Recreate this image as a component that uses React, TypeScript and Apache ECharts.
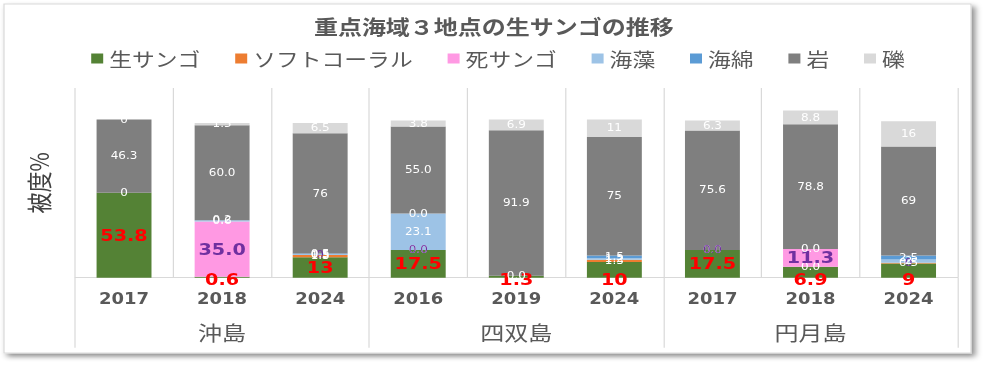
import React, { useEffect, useRef } from "react";
import * as echarts from "echarts";

// ---- data ----
const categories = ["2017", "2018", "2024", "2016", "2019", "2024", "2017", "2018", "2024"];
const groups = ["沖島", "四双島", "円月島"];
// decimals used for each bar's labels (null = general number format)
const decimals: (number | null)[] = [null, 1, null, 1, 1, null, 1, 1, null];

const live = [53.8, 0.6, 13, 17.5, 1.3, 10, 17.5, 6.9, 9];
const soft: (number | null)[] = [0, null, 1.3, 0, 0, 1.3, 0, 0, 0.5];
const dead: (number | null)[] = [null, 35.0, 0, 0, null, null, 0, 11.3, 0];
const algae: (number | null)[] = [null, 0.6, 0.5, 23.1, null, 1.2, null, 0, 2];
const sponge: (number | null)[] = [null, 0.2, 0.5, 0, null, 1.5, null, null, 2.5];
const rock = [46.3, 60.0, 76, 55.0, 91.9, 75, 75.6, 78.8, 69];
const rubble = [0, 1.5, 6.5, 3.8, 6.9, 11, 6.3, 8.8, 16];

const seriesNames = ["生サンゴ", "ソフトコーラル", "死サンゴ", "海藻", "海綿", "岩", "礫"];
const colors = ["#548235", "#ED7D31", "#FF99E3", "#9DC3E6", "#5B9BD5", "#7F7F7F", "#D9D9D9"];

const TITLE = "重点海域３地点の生サンゴの推移";
const Y_NAME = "被度%";

const S = 1.2; // horizontal stretch of the picture
const W = 987;
const H = 368;
const W0 = W / S;
const BASE_Y = 277.7;

const NUM_FONT = '"DejaVu Sans", "Noto Sans CJK JP", sans-serif';
const JP_FONT = '"Noto Sans CJK JP", "Noto Sans", sans-serif';

function fmt(p: any) {
  const d = decimals[p.dataIndex];
  const v = Number(p.value);
  return d == null ? String(v) : v.toFixed(d);
}

export default function App() {
  const ref = useRef<HTMLDivElement>(null);
  useEffect(() => {
    if (!ref.current) return;
    const chart = echarts.init(ref.current, undefined, { renderer: "svg" });

    const smallWhite = {
      show: true,
      position: "inside",
      color: "#FFFFFF",
      fontSize: 10,
      fontFamily: NUM_FONT,
      formatter: fmt,
    };

    const toData = (arr: (number | null)[]) => arr.map((v) => (v == null ? "-" : v));

    const series: any[] = [
      {
        name: seriesNames[0],
        data: live,
        label: {
          show: true,
          position: "inside",
          color: "#FF0000",
          fontSize: 16,
          fontWeight: "bold",
          fontFamily: NUM_FONT,
          formatter: fmt,
        },
        labelLayout: (p: any) =>
          live[p.dataIndex] < 12
            ? { y: BASE_Y + 2, align: "center", verticalAlign: "middle" }
            : {},
      },
      { name: seriesNames[1], data: toData(soft), label: smallWhite },
      {
        name: seriesNames[2],
        data: dead.map((v) =>
          v == null
            ? "-"
            : {
                value: v,
                label:
                  v >= 5
                    ? { fontSize: 16, fontWeight: "bold" }
                    : { fontSize: 10, fontWeight: "normal" },
              }
        ),
        label: {
          show: true,
          position: "inside",
          color: "#7030A0",
          fontFamily: NUM_FONT,
          formatter: fmt,
        },
      },
      { name: seriesNames[3], data: toData(algae), label: smallWhite },
      { name: seriesNames[4], data: toData(sponge), label: smallWhite },
      { name: seriesNames[5], data: toData(rock), label: smallWhite },
      { name: seriesNames[6], data: toData(rubble), label: smallWhite },
    ].map((s, i) => ({
      type: "bar",
      stack: "total",
      barWidth: "56%",
      xAxisIndex: 0,
      yAxisIndex: 0,
      itemStyle: { color: colors[i] },
      ...s,
    }));

    chart.setOption({
      animation: false,
      color: colors,
      textStyle: { fontFamily: JP_FONT },
      graphic: [
        {
          type: "rect",
          z: -10,
          silent: true,
          shape: { x: 4 / S, y: 4, width: 967 / S, height: 349 },
          style: {
            fill: "#FFFFFF",
            stroke: "#D9D9D9",
            lineWidth: 1,
            shadowBlur: 5,
            shadowOffsetX: 3,
            shadowOffsetY: 3,
            shadowColor: "rgba(0,0,0,0.45)",
          },
        },
      ],
      title: {
        text: TITLE,
        left: "center",
        top: 11,
        textStyle: {
          fontFamily: JP_FONT,
          fontSize: 20,
          fontWeight: "bold",
          color: "#595959",
        },
      },
      legend: {
        data: seriesNames,
        left: 71,
        top: 44,
        itemWidth: 10,
        itemHeight: 10,
        itemGap: 29,
        icon: "rect",
        textStyle: { fontFamily: JP_FONT, fontSize: 19, color: "#595959" },
      },
      grid: { left: 75 / S, right: W0 - 957 / S, top: 88, bottom: H - BASE_Y, containLabel: false },
      xAxis: [
        {
          type: "category",
          data: categories,
          position: "bottom",
          axisLine: { show: true, lineStyle: { color: "#D9D9D9", width: 1 } },
          axisTick: { show: false },
          splitLine: { show: true, lineStyle: { color: "#D9D9D9", width: 1 } },
          axisLabel: {
            margin: 14,
            fontSize: 15,
            fontWeight: "bold",
            color: "#595959",
            fontFamily: NUM_FONT,
            interval: 0,
          },
        },
        {
          type: "category",
          data: groups,
          position: "bottom",
          axisLine: { show: false },
          axisTick: { show: true, length: 70, lineStyle: { color: "#D9D9D9", width: 1 } },
          splitLine: { show: false },
          axisLabel: {
            margin: 44,
            fontSize: 20,
            color: "#595959",
            fontFamily: JP_FONT,
            interval: 0,
          },
        },
      ],
      yAxis: {
        type: "value",
        min: 0,
        max: 120,
        name: Y_NAME,
        nameLocation: "middle",
        nameRotate: 90,
        nameGap: 20,
        nameTextStyle: { fontFamily: JP_FONT, fontSize: 21, color: "#404040" },
        axisLine: { show: false },
        axisTick: { show: false },
        axisLabel: { show: false },
        splitLine: { show: false },
      },
      series,
    });
    return () => chart.dispose();
  }, []);

  return (
    <div style={{ position: "absolute", left: 0, top: 0, width: W, height: H, overflow: "hidden", background: "#fff" }}>
      <div
        ref={ref}
        style={{ width: W0, height: H, transform: `scaleX(${S})`, transformOrigin: "0 0" }}
      />
    </div>
  );
}
